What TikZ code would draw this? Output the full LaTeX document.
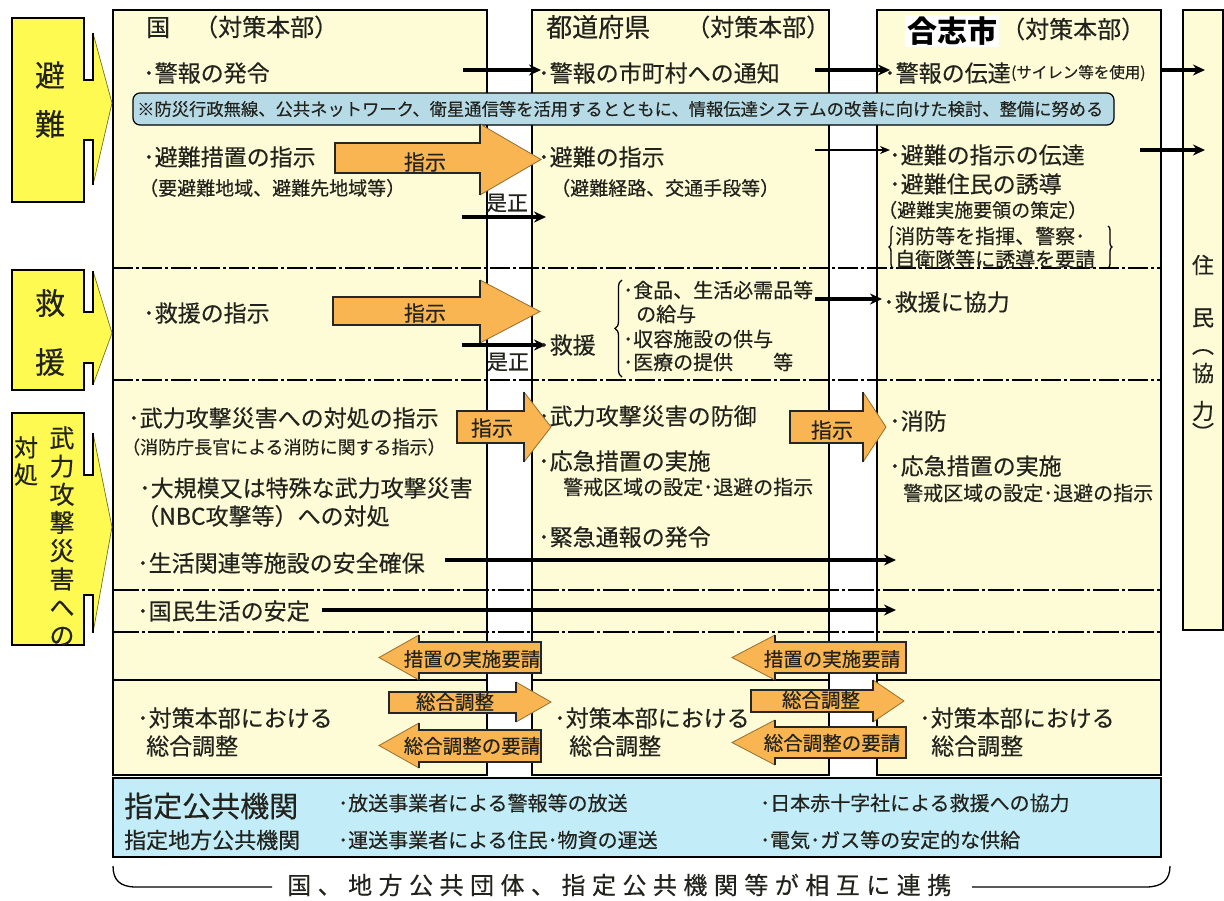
\documentclass[tikz,border=0pt]{standalone}
\usepackage{fontspec}
\setmainfont{Noto Sans CJK JP}[UprightFeatures={FakeBold=0.35}]
\usetikzlibrary{arrows.meta,decorations.pathreplacing}
\definecolor{panel}{RGB}{254,252,214}
\definecolor{catyel}{RGB}{255,250,82}
\definecolor{orng}{RGB}{248,181,81}
\definecolor{blueA}{RGB}{183,219,230}
\definecolor{blueB}{RGB}{194,236,247}
\definecolor{ink}{RGB}{35,35,30}
\newcommand\fs[1]{\fontsize{#1}{#1}\selectfont}
% orange block arrow: xl, xb, xa, yt, yb, ht, hb
\newcommand\blockarrow[7]{%
  \fill[orng] (#1,#4) -- (#2,#4) -- (#2,#6) -- (#3,{(#6+#7)/2}) -- (#2,#7) -- (#2,#5) -- (#1,#5) -- cycle;
  \draw[line width=0.8pt,draw=orng!60!black] (#2,#6) -- (#3,{(#6+#7)/2}) -- (#2,#7);
  \draw[line width=1.5pt,draw=black!85] (#2,#6) -- (#2,#4) -- (#1,#4) -- (#1,#5) -- (#2,#5) -- (#2,#7);
}
% category shape: top, bottom, notch1, notch2, vtop, vbot, apexy
\newcommand\catshape[7]{%
  \fill[catyel] (12,#1) -- (84,#1) -- (84,#3) -- (93,#3) -- (93,#5) -- (112,#7) -- (93,#6) -- (93,#4) -- (84,#4) -- (84,#2) -- (12,#2) -- cycle;
  \draw[line width=0.7pt,draw=black!55!catyel] (93,#5) -- (112,#7) -- (93,#6);
  \draw[line width=1.5pt] (93,#5) -- (93,#3) -- (84,#3) -- (84,#1) -- (12,#1) -- (12,#2) -- (84,#2) -- (84,#4) -- (93,#4) -- (93,#6);
}
\begin{document}
\begin{tikzpicture}[x=1pt,y=-1pt,
  panelbox/.style={draw=black,line width=1.4pt,fill=panel},
  t/.style={anchor=west,inner sep=0pt,text=ink,font=\fs{23}},
  ts/.style={anchor=west,inner sep=0pt,text=ink,font=\fs{19}},
  ti/.style={anchor=west,inner sep=0pt,text=ink,font=\fs{20}},
  hd/.style={anchor=west,inner sep=0pt,text=ink,font=\fs{24}},
  cat/.style={inner sep=0pt,text=ink,font=\fs{30}},
  conn/.style={line width=3.2pt,-{Stealth[length=12pt,width=11pt]}},
  connthin/.style={line width=1.4pt,-{Stealth[length=10pt,width=8pt]}},
  sepline/.style={line width=1.1pt,dash pattern=on 20pt off 3pt on 3pt off 3pt},
  septhick/.style={line width=2.6pt,dash pattern=on 26pt off 3pt on 3pt off 3pt},
  alab/.style={inner sep=0pt,text=ink,font=\fs{19.5}},
  slab/.style={inner sep=0pt,text=ink,font=\fs{21}},
]
\useasboundingbox (0,0) rectangle (1224,900);
\fill[white] (0,0) rectangle (1224,900);

% ---------- panels ----------
\path[panelbox] (113,10) rectangle (487,775);
\path[panelbox] (532,10) rectangle (829,775);
\path[panelbox] (877,10) rectangle (1161,775);
\path[panelbox] (1183,10) rectangle (1223,630);

% ---------- separators ----------
\draw[sepline] (113,268) -- (1161,268);
\draw[sepline] (113,380) -- (1161,380);
\draw[septhick] (113,590) -- (1161,590);
\draw[septhick] (113,632) -- (1161,632);
\draw[line width=1.3pt] (113,680) -- (487,680);
\draw[line width=1.3pt] (532,680) -- (829,680);
\draw[line width=1.3pt] (877,680) -- (1161,680);

% ---------- category shapes ----------
\catshape{18}{202}{80}{140}{33}{185}{103}
\catshape{270}{390}{312}{363}{271}{385}{333}
\catshape{413}{645}{475}{595}{433}{633}{527}
\node[cat] (k1) at (50,75) {避};
\node[cat] (k2) at (50,124) {難};
\node[cat] (k3) at (50,303) {救};
\node[cat] (k4) at (50,362) {援};
\node[inner sep=0pt,text=ink,align=center,font=\fontsize{25}{28.2}\selectfont] (k5) at (62,536) {武\\力\\攻\\撃\\災\\害\\へ\\の};
\node[inner sep=0pt,text=ink,align=center,font=\fontsize{24}{27}\selectfont] (k6) at (26,461) {対\\処};

% ---------- headers ----------
\node[hd] (h1) at (146,27) {国　（対策本部）};
\node[hd,font=\fs{26}] (h2) at (546,27) {都道府県};
\node[hd] (h2b) at (686,27) {（対策本部）};
\node[anchor=west,inner sep=2pt,fill=white,text=black,font=\fs{30}\bfseries] (h3) at (905,31) {合志市};
\node[hd] (h3b) at (1001,29) {（対策本部）};

% ---------- note box ----------
\path[draw=black,line width=1.2pt,fill=blueA,rounded corners=7pt] (133,93) rectangle (1114,125);
\node[anchor=west,inner sep=0pt,text=ink,font=\fs{17.3}] (note) at (137,109) {※防災行政無線、公共ネットワーク、衛星通信等を活用するとともに、情報伝達システムの改善に向けた検討、整備に努める};

% ---------- 避難 row ----------
\node[t] (a1) at (143,73) {･警報の発令};
\node[t] (a2) at (143,157) {･避難措置の指示};
\node[ts] (a3) at (139,188) {（要避難地域、避難先地域等）};
\node[t] (b1) at (538,73) {･警報の市町村への通知};
\node[t] (b2) at (538,157) {･避難の指示};
\node[ts] (b3) at (551,188) {（避難経路、交通手段等）};
\node[t] (c1) at (884,73) {･警報の伝達};
\node[anchor=west,inner sep=0pt,text=ink,font=\fs{15.5}] (c1b) at (c1.east) {(サイレン等を使用)};
\node[t] (c2) at (889,155) {･避難の指示の伝達};
\node[t] (c3) at (889,184) {･避難住民の誘導};
\node[ts] (c4) at (878,210) {（避難実施要領の策定）};
\node[ti] (c5) at (895,236) {消防等を指揮、警察･};
\node[ti] (c6) at (895,259) {自衛隊等に誘導を要請};
\draw[line width=1.3pt,decorate,decoration={brace,amplitude=4pt}] (893,268) -- (893,226);
\draw[line width=1.3pt,decorate,decoration={brace,amplitude=4pt}] (1108,226) -- (1108,268);

\blockarrow{335}{480}{541}{143}{173}{124}{195}
\node[slab] (ar1) at (425,162) {指示};
\node[slab] (z1) at (507,203) {是正};

\coordinate (e1s) at (463,70);  \coordinate (e1t) at (541,70);
\coordinate (e2s) at (815,70);  \coordinate (e2t) at (890,70);
\coordinate (e3s) at (1160,70); \coordinate (e3t) at (1205,70);
\coordinate (e4s) at (815,150); \coordinate (e4t) at (890,150);
\coordinate (e5s) at (1140,150);\coordinate (e5t) at (1205,150);
\coordinate (e6s) at (462,217); \coordinate (e6t) at (546,217);
\draw[conn] (e1s) -- (e1t);
\draw[conn] (e2s) -- (e2t);
\draw[conn] (e3s) -- (e3t);
\draw[connthin] (e4s) -- (e4t);
\draw[conn] (e5s) -- (e5t);
\draw[conn] (e6s) -- (e6t);

% ---------- 救援 row ----------
\node[t] (a4) at (143,313) {･救援の指示};
\blockarrow{333}{480}{540}{297}{325}{280}{343}
\node[slab] (ar2) at (425,313) {指示};
\node[slab] (z2) at (508,362) {是正};
\coordinate (e7s) at (462,345); \coordinate (e7t) at (546,345);
\draw[conn] (e7s) -- (e7t);
\node[t] (b4) at (538,345) {･救援};
\draw[line width=1.3pt,decorate,decoration={brace,amplitude=7pt}] (622,377) -- (622,280);
\node[ti] (b5) at (623,290) {･食品、生活必需品等};
\node[ti] (b6) at (636,314) {の給与};
\node[ti] (b7) at (623,339) {･収容施設の供与};
\node[ti] (b8) at (623,362) {･医療の提供　　等};
\node[t] (c7) at (883,302) {･救援に協力};
\coordinate (e8s) at (815,299); \coordinate (e8t) at (882,299);
\draw[conn] (e8s) -- (e8t);

% ---------- 武力攻撃 row ----------
\node[t] (a5) at (128,418) {･武力攻撃災害への対処の指示};
\node[anchor=west,inner sep=0pt,text=ink,font=\fs{18}] (a6) at (122,447) {（消防庁長官による消防に関する指示）};
\node[t] (a7) at (139,488) {･大規模又は特殊な武力攻撃災害};
\node[t] (a8) at (136,516) {（NBC攻撃等）への対処};
\node[t] (a9) at (137,563) {･生活関連等施設の安全確保};
\node[t] (a10) at (137,611) {･国民生活の安定};
\node[t] (b9) at (538,416) {･武力攻撃災害の防御};
\node[t] (b10) at (538,461) {･応急措置の実施};
\node[ti] (b11) at (563,487) {警戒区域の設定･退避の指示};
\node[t] (b12) at (538,537) {･緊急通報の発令};
\node[t] (c8) at (889,421) {･消防};
\node[t] (c9) at (889,466) {･応急措置の実施};
\node[ti] (c10) at (903,493) {警戒区域の設定･退避の指示};

\blockarrow{457}{524}{551}{411}{443}{392}{462}
\node[slab] (ar3) at (492,428) {指示};
\blockarrow{790}{863}{886}{411}{443}{392}{462}
\node[slab] (ar4) at (832,430) {指示};

\coordinate (e9s) at (445,560);  \coordinate (e9t) at (896,560);
\coordinate (e10s) at (322,610); \coordinate (e10t) at (896,610);
\draw[conn] (e9s) -- (e9t);
\draw[conn] (e10s) -- (e10t);

% ---------- 要請 / 総合調整 ----------
\blockarrow{541}{419}{379}{642}{673}{635}{680}
\node[alab] (ar5) at (472,659) {措置の実施要請};
\blockarrow{906}{775}{732}{642}{673}{635}{680}
\node[alab] (ar6) at (832,659) {措置の実施要請};

\blockarrow{389}{516}{551}{692}{713}{682}{722}
\node[alab] (ar7) at (455,702) {総合調整};
\blockarrow{541}{419}{379}{730}{762}{723}{768}
\node[alab] (ar8) at (472,746) {総合調整の要請};
\blockarrow{751}{873}{904}{690}{712}{680}{722}
\node[alab] (ar9) at (821,700) {総合調整};
\blockarrow{906}{775}{732}{727}{758}{720}{765}
\node[alab] (ar10) at (832,743) {総合調整の要請};

\node[t] (a11) at (137,718) {･対策本部における};
\node[t] (a12) at (146,746) {総合調整};
\node[t] (b13) at (554,718) {･対策本部における};
\node[t] (b14) at (569,746) {総合調整};
\node[t] (c11) at (919,718) {･対策本部における};
\node[t] (c12) at (931,746) {総合調整};

% ---------- 住民 ----------
\node[inner sep=0pt,text=ink,font=\fs{22}] (r1) at (1203,265) {住};
\node[inner sep=0pt,text=ink,font=\fs{22}] (r2) at (1203,318) {民};
\node[inner sep=0pt,text=ink,font=\fs{22}] (r3) at (1203,352) {︵};
\node[inner sep=0pt,text=ink,font=\fs{22}] (r4) at (1203,373) {協};
\node[inner sep=0pt,text=ink,font=\fs{22}] (r5) at (1203,411) {力};
\node[inner sep=0pt,text=ink,font=\fs{22}] (r6) at (1203,432) {︶};

% ---------- bottom box ----------
\path[draw=black,line width=1.5pt,fill=blueB] (113,778) rectangle (1161,857);
\node[anchor=west,inner sep=0pt,text=ink,font=\fs{29}] (d1) at (124,806) {指定公共機関};
\node[anchor=west,inner sep=0pt,text=ink,font=\fs{22}] (d2) at (124,840) {指定地方公共機関};
\node[ti] (d3) at (338,803) {･放送事業者による警報等の放送};
\node[ti] (d4) at (338,840) {･運送事業者による住民･物資の運送};
\node[ti] (d5) at (760,803) {･日本赤十字社による救援への協力};
\node[ti] (d6) at (760,840) {･電気･ガス等の安定的な供給};

% ---------- bottom bracket ----------
\node[anchor=west,inner sep=0pt,text=ink,font=\fs{24}\addfontfeature{LetterSpace=27}] (f1) at (287,885) {国、地方公共団体、指定公共機関等が相互に連携};
\coordinate (g1) at (113,866); \coordinate (g2) at (272,887);
\coordinate (g3) at (972,887); \coordinate (g4) at (1170,866);
\draw[line width=1.3pt] (g1) .. controls (113,880) and (120,887) .. (136,887) -- (g2);
\draw[line width=1.3pt] (g3) -- (1146,887) .. controls (1162,887) and (1170,880) .. (g4);
\end{tikzpicture}
\end{document}
